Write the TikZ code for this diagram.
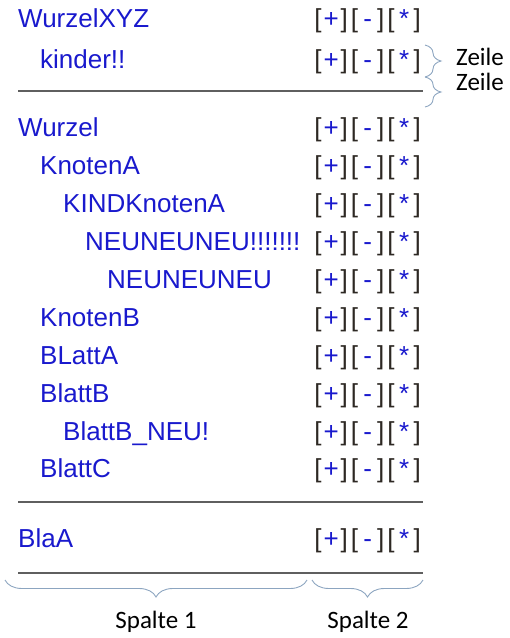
\documentclass[tikz,border=0pt]{standalone}
\usepackage{fontspec}
\setmainfont{Liberation Sans}
\newfontfamily\calibri{Carlito}
\usepackage{xcolor}
\usetikzlibrary{decorations.pathreplacing, positioning, calc}

\definecolor{baum}{RGB}{25,25,205}
\definecolor{klammer}{RGB}{45,40,35}
\definecolor{strich}{RGB}{95,95,95}
\definecolor{spange}{RGB}{140,165,192}

\newcommand{\knopf}[1]{\textcolor{klammer}{[}\makebox[19pt]{\textcolor{baum}{#1}}\textcolor{klammer}{]}}
\newcommand{\knopfzeile}{\knopf{+}\hspace{3pt}\knopf{-}\hspace{3pt}\knopf{*}}

\begin{document}
\begin{tikzpicture}[x=1pt,y=-1pt,
    eintrag/.style={anchor=base west,inner sep=0pt,text=baum,font=\fontsize{26}{30}\selectfont},
    knoepfe/.style={anchor=base east,inner sep=0pt,font=\fontsize{26}{30}\selectfont},
    trenner/.style={strich,line width=1.6pt},
    spangeoben/.style={spange,line width=0.9pt,decorate,decoration={brace,amplitude=16pt}},
    spangeunten/.style={spange,line width=0.9pt,decorate,decoration={brace,amplitude=17pt}},
    beschriftung/.style={inner sep=0pt,font=\calibri\fontsize{25}{29}\selectfont}]
    \useasboundingbox (0,0) rectangle (510,638);

    % Baum oben
    \node[eintrag] (wurzelxyz) at (18,27) {WurzelXYZ};
    \node[eintrag] (kinder) at (40,68) {kinder!!};

    % Baum unten
    \node[eintrag] (wurzel) at (18,136) {Wurzel};
    \node[eintrag] (knotena) at (40,174) {KnotenA};
    \node[eintrag] (kindknotena) at (63,212) {KINDKnotenA};
    \node[eintrag] (neulang) at (85,250) {NEUNEUNEU!!!!!!!};
    \node[eintrag] (neukurz) at (107,288) {NEUNEUNEU};
    \node[eintrag] (knotenb) at (40,326) {KnotenB};
    \node[eintrag] (blatta) at (40,364) {BLattA};
    \node[eintrag] (blattb) at (40,402) {BlattB};
    \node[eintrag] (blattbneu) at (63,440) {BlattB\_NEU!};
    \node[eintrag] (blattc) at (40,477) {BlattC};

    % Extra
    \node[eintrag] (blaa) at (18,547) {BlaA};

    % Knoepfe
    \foreach \n/\y in {1/27,2/68,3/136,4/174,5/212,6/250,7/288,8/326,9/364,10/402,11/440,12/477,13/547}
    \node[knoepfe] (knopf\n) at (421,\y) {\knopfzeile};

    % Trennlinien
    \draw[trenner] (18,91) -- (423,91);
    \draw[trenner] (18,502) -- (423,502);
    \draw[trenner] (18,573) -- (423,573);

    % Zeilen
    \draw[spangeoben] (425,45) -- (425,77);
    \draw[spangeoben] (425,77) -- (425,107);
    \node[beschriftung,anchor=base west] (zeile1) at (456,65) {Zeile};
    \node[beschriftung,anchor=base west] (zeile2) at (456,90) {Zeile};

    % Spalten
    \draw[spangeunten] (307,580) -- (5,580);
    \draw[spangeunten] (423,580) -- (312,580);
    \node[beschriftung,anchor=base] (spalte1) at (156,628) {Spalte 1};
    \node[beschriftung,anchor=base] (spalte2) at (368,628) {Spalte 2};
  \end{tikzpicture}
\end{document}
